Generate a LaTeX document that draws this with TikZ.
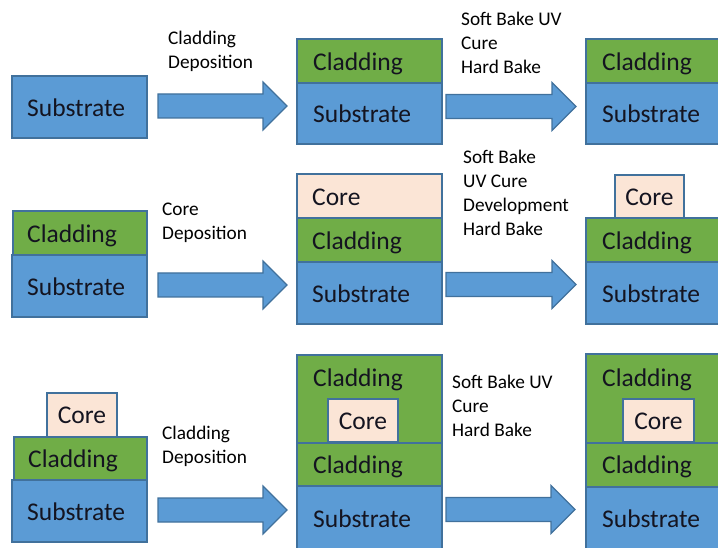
\documentclass[tikz,border=0pt]{standalone}
\usepackage{fontspec}
\setmainfont{Carlito}
\definecolor{subblue}{HTML}{5B9BD5}
\definecolor{cladgreen}{HTML}{70AD47}
\definecolor{corepeach}{HTML}{FBE5D6}
\definecolor{edge}{HTML}{41719C}
\definecolor{ink}{HTML}{141420}
\tikzset{
  layer/.style={draw=edge, line width=1.2pt, inner sep=0pt, outer sep=0pt, anchor=north west},
  subl/.style={layer, fill=subblue},
  cladl/.style={layer, fill=cladgreen},
  corel/.style={layer, fill=corepeach},
  tag/.style={font=\fontsize{25.5}{30}\selectfont, text=ink, inner sep=0pt, text height=16.4pt, text depth=0pt},
  tagw/.style={tag, anchor=west},
  steplabel/.style={font=\fontsize{19.3}{24}\selectfont, align=left, anchor=north west, inner sep=0pt, text=black},
  flowshape/.style={draw=edge, fill=subblue, line width=1.2pt, line join=miter}
}
% layer rectangle: name, x1, y1, x2, y2 (pixel units, y downwards), style
\newcommand\layerbox[6]{\node[#6, minimum width=#4pt-#2pt, minimum height=#5pt-#3pt] (#1) at (#2,#3) {};}
% block arrow: name, tail x, centre y, shaft length
\newcommand\flowarrow[4]{%
  \coordinate (#1) at (#2,#3);
  \draw[flowshape] (#2,#3-12) -- ++(#4,0) -- ++(0,-12) -- ++(24,24) -- ++(-24,24) -- ++(0,-12) -- ++(-#4,0) -- cycle;}
\begin{document}
\begin{tikzpicture}[x=1pt, y=-1pt]
\useasboundingbox (0,0) rectangle (718,548);
\clip (0,0) rectangle (718,548);

% ---- row 1: cladding deposition and curing
\layerbox{aS}{12}{76}{147}{138}{subl}
\node[tagw] (aSt) at (27,108) {Substrate};

\flowarrow{f1}{158}{106}{105}
\node[steplabel] (l1) at (168,30.5) {\rule{0pt}{14pt}Cladding\\Deposition};

\layerbox{bC}{297}{39}{442}{83}{cladl}
\layerbox{bS}{297}{83}{442}{144}{subl}
\node[tagw] (bCt) at (313,62) {Cladding};
\node[tagw] (bSt) at (313,114) {Substrate};

\flowarrow{f2}{446}{106.5}{106}
\node[steplabel] (l2) at (461,11.7) {\rule{0pt}{14pt}Soft Bake UV\\Cure\\Hard Bake};

\layerbox{cC}{586}{39}{730}{83}{cladl}
\layerbox{cS}{586}{83}{730}{144}{subl}
\node[tagw] (cCt) at (602,62) {Cladding};
\node[tagw] (cSt) at (602,114) {Substrate};

% ---- row 2: core deposition and patterning
\layerbox{dC}{13}{211}{147}{255}{cladl}
\layerbox{dS}{12}{255}{147}{317}{subl}
\node[tagw] (dCt) at (27,234) {Cladding};
\node[tagw] (dSt) at (27,287) {Substrate};

\flowarrow{f3}{158}{285}{105}
\node[steplabel] (l3) at (162,201.5) {\rule{0pt}{14pt}Core\\Deposition};

\layerbox{eK}{297}{174}{442}{218}{corel}
\layerbox{eC}{297}{218}{442}{262}{cladl}
\layerbox{eS}{297}{262}{442}{324}{subl}
\node[tagw] (eKt) at (312,197) {Core};
\node[tagw] (eCt) at (312,241) {Cladding};
\node[tagw] (eSt) at (312,294) {Substrate};

\flowarrow{f4}{446}{284.5}{106}
\node[steplabel] (l4) at (463,149) {\rule{0pt}{14pt}Soft Bake\\UV Cure\\Development\\Hard Bake};

\layerbox{gC}{586}{218}{730}{262}{cladl}
\layerbox{gS}{586}{262}{730}{324}{subl}
\layerbox{gK}{615}{175}{684}{218}{corel}
\node[tag] (gKt) at (649.5,197) {Core};
\node[tagw] (gCt) at (602,241) {Cladding};
\node[tagw] (gSt) at (602,294) {Substrate};

% ---- row 3: upper cladding deposition and curing
\layerbox{hK}{47}{393}{117}{437}{corel}
\layerbox{hC}{14}{437}{147}{480}{cladl}
\layerbox{hS}{12}{480}{147}{542}{subl}
\node[tag] (hKt) at (82,415.5) {Core};
\node[tagw] (hCt) at (28,459) {Cladding};
\node[tagw] (hSt) at (27,512) {Substrate};

\flowarrow{f5}{158}{510}{105}
\node[steplabel] (l5) at (162,425.5) {\rule{0pt}{14pt}Cladding\\Deposition};

\layerbox{iU}{297}{355}{442}{443}{cladl}
\layerbox{iK}{328}{399}{398}{442}{corel}
\layerbox{iC}{297}{443}{442}{486}{cladl}
\layerbox{iS}{297}{486}{442}{556}{subl}
\node[tagw] (iUt) at (313,378) {Cladding};
\node[tag] (iKt) at (363,421) {Core};
\node[tagw] (iCt) at (313,465) {Cladding};
\node[tagw] (iSt) at (313,519.5) {Substrate};

\flowarrow{f6}{446}{509.5}{105}
\node[steplabel] (l6) at (452,374.5) {\rule{0pt}{14pt}Soft Bake UV\\Cure\\Hard Bake};

\layerbox{jU}{586}{354}{730}{443}{cladl}
\layerbox{jK}{623}{399}{694}{442}{corel}
\layerbox{jC}{586}{443}{730}{487}{cladl}
\layerbox{jS}{586}{487}{730}{556}{subl}
\node[tagw] (jUt) at (602,378) {Cladding};
\node[tag] (jKt) at (658.5,421) {Core};
\node[tagw] (jCt) at (602,465.5) {Cladding};
\node[tagw] (jSt) at (602,519.5) {Substrate};
\end{tikzpicture}
\end{document}
